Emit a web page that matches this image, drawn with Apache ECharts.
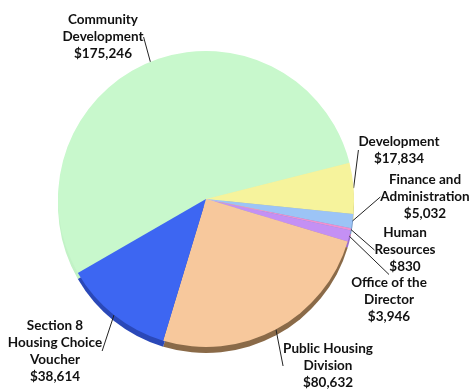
<!DOCTYPE html>
<html>
<head>
<meta charset="utf-8">
<script src="https://cdn.jsdelivr.net/npm/echarts@6/dist/echarts.min.js"></script>
<style>
html,body{margin:0;padding:0;background:#fff;}
#c{width:470px;height:389px;}
</style>
</head>
<body>
<div id="c"></div>
<script>
const categories = [
  'Community\nDevelopment',
  'Development',
  'Finance and\nAdministration',
  'Human\nResources',
  'Office of the\nDirector',
  'Public Housing\nDivision',
  'Section 8\nHousing Choice\nVoucher'
];
const values = [175246, 17834, 5032, 830, 3946, 80632, 38614];
const topColors = ['#c8f8cc', '#f6f39c', '#9cc4f6', '#f090d0', '#c490f4', '#f7c89c', '#3d66f2'];
const sideColors = ['#c2f2c6', '#c9c57a', '#7a9ccc', '#c070a8', '#9a6ccc', '#8a6a48', '#2a48b8'];
// label anchor centres (x, y) for each slice label
const labelPos = [
  [103, 37], [399, 150], [425, 197], [405, 250], [389, 300], [328, 366], [55, 351]
];

const chart = echarts.init(document.getElementById('c'), null, {renderer: 'canvas'});
const fmt = v => '$' + v.toLocaleString('en-US');

const topData = categories.map((n, i) => ({name: n, value: values[i], itemStyle: {color: topColors[i]}}));
const sideData = categories.map((n, i) => ({name: n, value: values[i], itemStyle: {color: sideColors[i]}}));

chart.setOption({
  animation: false,
  series: [
    {
      type: 'pie',
      z: 1,
      silent: true,
      center: [206, 205],
      radius: 148,
      startAngle: 210,
      clockwise: true,
      label: {show: false},
      labelLine: {show: false},
      data: sideData
    },
    {
      type: 'pie',
      z: 2,
      center: [206, 199],
      radius: 148,
      startAngle: 210,
      clockwise: true,
      avoidLabelOverlap: false,
      label: {
        show: true,
        position: 'outside',
        formatter: p => p.name + '\n' + fmt(p.value),
        color: '#111',
        fontFamily: 'Lato',
        fontWeight: 'bold',
        fontSize: 13.5,
        lineHeight: 17,
        align: 'center'
      },
      labelLine: {
        show: true,
        length: 2,
        length2: 0,
        minTurnAngle: 0,
        lineStyle: {color: '#222', width: 1}
      },
      labelLayout: function (params) {
        const p = labelPos[params.dataIndex];
        return {x: p[0], y: p[1], align: 'center', verticalAlign: 'middle'};
      },
      data: topData
    }
  ]
});
</script>
</body>
</html>
